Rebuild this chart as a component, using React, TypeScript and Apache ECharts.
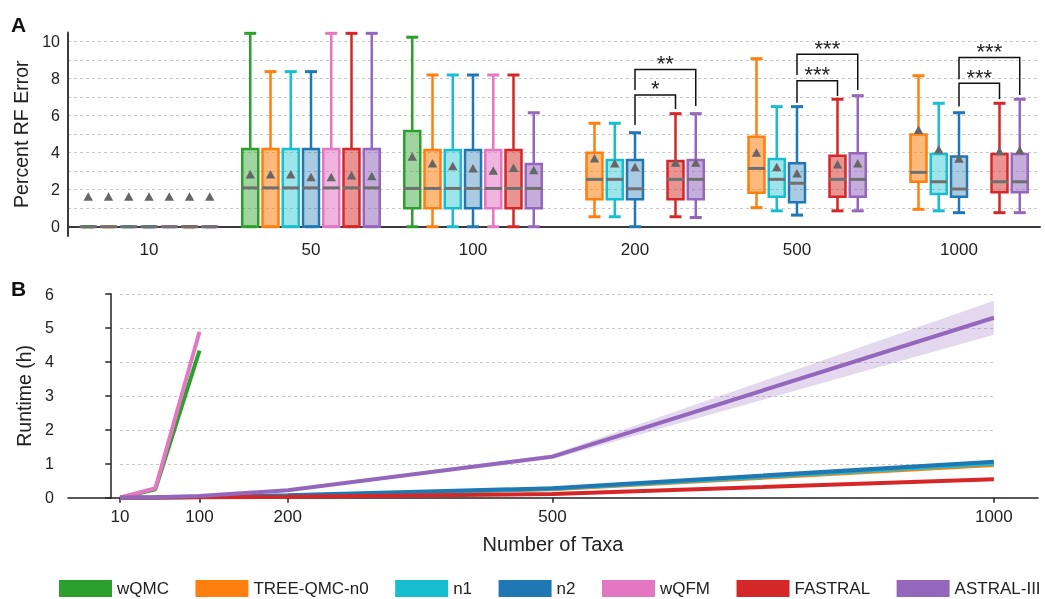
import React, { useEffect, useRef } from "react";
import * as echarts from "echarts";

const FONT = '"Liberation Sans", Arial, Helvetica, sans-serif';

const METHODS = ["wQMC", "TREE-QMC-n0", "n1", "n2", "wQFM", "FASTRAL", "ASTRAL-III"];
const COLORS = ["#2ca02c", "#ff7f0e", "#17becf", "#1f77b4", "#e377c2", "#d62728", "#9467bd"];
const FILLS = ["rgba(44,160,44,0.45)", "rgba(255,127,14,0.55)", "rgba(23,190,207,0.42)", "rgba(31,119,180,0.38)", "rgba(227,119,194,0.55)", "rgba(214,39,40,0.5)", "rgba(148,103,189,0.55)"];

// Panel A: percent RF error, per taxa group: [min, q1, median, q3, max, mean]
const GROUPS = ["10", "50", "100", "200", "500", "1000"];
const WQMC_BOX = [[0, 0, 0, 0, 0, 1.6], [0, 0, 2.1, 4.2, 10.45, 2.8], [0, 1.0, 2.07, 5.17, 10.24, 3.75], null, null, null];
const N0_BOX = [[0, 0, 0, 0, 0, 1.6], [0, 0, 2.1, 4.2, 8.38, 2.8], [0, 1.0, 2.07, 4.15, 8.2, 3.39], [0.54, 1.48, 2.56, 4.0, 5.59, 3.66], [1.03, 1.84, 3.15, 4.86, 9.08, 3.97], [0.94, 2.43, 2.94, 4.99, 8.16, 5.2]];
const N1_BOX = [[0, 0, 0, 0, 0, 1.6], [0, 0, 2.1, 4.2, 8.38, 2.8], [0, 1.0, 2.07, 4.15, 8.2, 3.24], [0.54, 1.48, 2.56, 3.6, 5.59, 3.39], [0.86, 1.62, 2.56, 3.66, 6.49, 3.19], [0.86, 1.77, 2.43, 3.93, 6.67, 4.15]];
const N2_BOX = [[0, 0, 0, 0, 0, 1.6], [0, 0, 2.1, 4.2, 8.38, 2.65], [0, 1.0, 2.07, 4.15, 8.2, 3.12], [0, 1.48, 2.05, 3.6, 5.08, 3.19], [0.63, 1.32, 2.35, 3.43, 6.49, 2.85], [0.76, 1.62, 2.04, 3.79, 6.16, 3.64]];
const WQFM_BOX = [[0, 0, 0, 0, 0, 1.6], [0, 0, 2.1, 4.2, 10.45, 2.65], [0, 1.0, 2.07, 4.15, 8.2, 3.0], null, null, null];
const FASTRAL_BOX = [[0, 0, 0, 0, 0, 1.6], [0, 0, 2.1, 4.2, 10.45, 2.74], [0, 1.0, 2.07, 4.15, 8.2, 3.15], [0.54, 1.48, 2.56, 3.55, 6.11, 3.43], [0.86, 1.62, 2.56, 3.84, 6.89, 3.34], [0.76, 1.86, 2.43, 3.93, 6.67, 4.05]];
const ASTRAL_BOX = [[0, 0, 0, 0, 0, 1.6], [0, 0, 2.1, 4.2, 10.45, 2.7], [0, 1.0, 2.07, 3.39, 6.16, 3.03], [0.5, 1.48, 2.56, 3.6, 6.11, 3.43], [0.86, 1.62, 2.56, 3.97, 7.08, 3.39], [0.76, 1.86, 2.43, 3.93, 6.89, 4.1]];
const BOXES = [WQMC_BOX, N0_BOX, N1_BOX, N2_BOX, WQFM_BOX, FASTRAL_BOX, ASTRAL_BOX];

// Significance brackets (panel A)
const SIG_GROUP = [3, 3, 4, 4, 5, 5];
const SIG_FROM = [3, 3, 3, 3, 3, 3];
const SIG_TO = [5, 6, 5, 6, 5, 6];
const SIG_BAR = [7.12, 8.5, 7.89, 9.32, 7.75, 9.14];
const SIG_LEFT = [5.5, 7.39, 6.7, 8.2, 6.49, 7.97];
const SIG_RIGHT = [6.36, 6.52, 7.06, 7.39, 6.89, 7.12];
const SIG_LABEL = ["*", "**", "***", "***", "***", "***"];

// Panel B: runtime (h)
const TAXA = [10, 50, 100, 200, 500, 1000];
const TAXA_TICKS = [10, 100, 200, 500, 1000];
const WQMC_RT = [0, 0.25, 4.33];
const N0_RT = [0, 0.005, 0.02, 0.05, 0.25, 0.96];
const N1_RT = [0, 0.005, 0.02, 0.06, 0.26, 1.01];
const N2_RT = [0, 0.005, 0.02, 0.07, 0.28, 1.06];
const WQFM_RT = [0, 0.28, 4.89];
const FASTRAL_RT = [0, 0.002, 0.01, 0.03, 0.11, 0.54];
const ASTRAL_RT = [0, 0.01, 0.05, 0.22, 1.21, 5.3];
const ASTRAL_LO = [0, 0.008, 0.04, 0.19, 1.14, 4.8];
const ASTRAL_HI = [0, 0.015, 0.06, 0.25, 1.28, 5.8];
const RUNTIMES = [WQMC_RT, N0_RT, N1_RT, N2_RT, WQFM_RT, FASTRAL_RT, ASTRAL_RT];

function boxRenderer(mi: number) {
  return (params: any, api: any) => {
    const g = api.value(0);
    const band = api.coord([1, 0])[0] - api.coord([0, 0])[0];
    const cx = api.coord([g, 0])[0] + ((mi - 3) * band) / 8;
    const y = (d: number) => api.coord([g, api.value(d)])[1];
    const yMin = y(1), yQ1 = y(2), yMed = y(3), yQ3 = y(4), yMax = y(5), yMean = y(6);
    const c = COLORS[mi];
    return {
      type: "group",
      children: [
        { type: "line", shape: { x1: cx, y1: yQ3, x2: cx, y2: yMax }, style: { stroke: c, lineWidth: 2.5 } },
        { type: "line", shape: { x1: cx, y1: yQ1, x2: cx, y2: yMin }, style: { stroke: c, lineWidth: 2.5 } },
        { type: "line", shape: { x1: cx - 6, y1: yMax, x2: cx + 6, y2: yMax }, style: { stroke: c, lineWidth: 3 } },
        { type: "line", shape: { x1: cx - 6, y1: yMin, x2: cx + 6, y2: yMin }, style: { stroke: c, lineWidth: 3 } },
        { type: "rect", shape: { x: cx - 8, y: yQ3, width: 16, height: yQ1 - yQ3 }, style: { fill: FILLS[mi], stroke: c, lineWidth: 2.5 } },
        { type: "line", shape: { x1: cx - 8.5, y1: yMed, x2: cx + 8.5, y2: yMed }, style: { stroke: "#707070", lineWidth: 3 } },
        { type: "polygon", shape: { points: [[cx, yMean - 5], [cx - 4.7, yMean + 3.5], [cx + 4.7, yMean + 3.5]] }, style: { fill: "#666666" } },
      ],
    };
  };
}

function sigRenderer(params: any, api: any) {
  const g = api.value(0);
  const band = api.coord([1, 0])[0] - api.coord([0, 0])[0];
  const base = api.coord([g, 0])[0];
  const xl = base + ((api.value(1) - 3) * band) / 8;
  const xr = base + ((api.value(2) - 3) * band) / 8;
  const yb = api.coord([g, api.value(3)])[1];
  const yl = api.coord([g, api.value(4)])[1];
  const yr = api.coord([g, api.value(5)])[1];
  return {
    type: "group",
    children: [
      { type: "polyline", shape: { points: [[xl, yl], [xl, yb], [xr, yb], [xr, yr]] }, style: { stroke: "#111", lineWidth: 1.5, fill: null } },
      { type: "text", x: (xl + xr) / 2, y: yb - 6, style: { text: SIG_LABEL[params.dataIndex], fontSize: 22, fill: "#222", align: "center", verticalAlign: "middle", fontFamily: FONT } },
    ],
  };
}

function bandRenderer(params: any, api: any) {
  const upper = TAXA.map((x, i) => api.coord([x, ASTRAL_HI[i]]));
  const lower = TAXA.map((x, i) => api.coord([x, ASTRAL_LO[i]])).reverse();
  return {
    type: "polygon",
    shape: { points: [...upper, ...lower] },
    style: { fill: "rgba(148,103,189,0.26)", stroke: null },
  };
}

export default function App() {
  const ref = useRef<HTMLDivElement>(null);
  useEffect(() => {
    if (!ref.current) return;
    const chart = echarts.init(ref.current, null, { renderer: "svg" });
    const axisColA = "#3a3a3a";
    const axisColB = "#222";
    const gridLine = { color: "#c8c8c8", type: [3, 3] as any, width: 1 };

    const boxSeries = METHODS.map((name, mi) => {
      const rows: any[] = [];
      BOXES[mi].forEach((b, g) => {
        if (b) rows.push([g, ...b]);
      });
      return {
        type: "custom",
        name,
        xAxisIndex: 0,
        yAxisIndex: 0,
        itemStyle: { color: COLORS[mi] },
        encode: { x: 0, y: [1, 2, 3, 4, 5, 6] },
        clip: false,
        renderItem: boxRenderer(mi),
        data: rows,
        z: 3,
      };
    });

    const sigSeries = {
      type: "custom",
      name: "sig",
      xAxisIndex: 0,
      yAxisIndex: 0,
      encode: { x: 0, y: [3, 4, 5] },
      clip: false,
      renderItem: sigRenderer,
      data: SIG_GROUP.map((g, i) => [g, SIG_FROM[i], SIG_TO[i], SIG_BAR[i], SIG_LEFT[i], SIG_RIGHT[i]]),
      z: 4,
    };

    const lineSeries = METHODS.map((name, mi) => ({
      type: "line",
      name,
      xAxisIndex: 1,
      yAxisIndex: 1,
      showSymbol: false,
      symbol: "none",
      lineStyle: { width: 4, color: COLORS[mi] },
      itemStyle: { color: COLORS[mi] },
      data: RUNTIMES[mi].map((v, i) => [TAXA[i], v]),
      z: 3 + mi,
    }));

    const bandSeries = {
      type: "custom",
      name: "astral-band",
      xAxisIndex: 1,
      yAxisIndex: 1,
      renderItem: bandRenderer,
      data: [[TAXA[0], ASTRAL_LO[0]]],
      clip: false,
      silent: true,
      z: 2,
    };

    chart.setOption({
      animation: false,
      textStyle: { fontFamily: FONT },
      grid: [
        { left: 68, top: 32.4, width: 972, height: 203.6, outerBoundsMode: "none" },
        { left: 68, top: 294, width: 970, height: 203.7, outerBoundsMode: "none" },
        { left: 120, top: 294, width: 874, height: 203.7, outerBoundsMode: "none" },
      ],
      xAxis: [
        {
          gridIndex: 0,
          type: "category",
          data: GROUPS,
          axisTick: { show: false },
          axisLine: { lineStyle: { color: axisColA, width: 2 } },
          axisLabel: { fontSize: 17, color: "#222", margin: 5, fontFamily: FONT },
          splitLine: { show: false },
        },
        {
          gridIndex: 1,
          type: "value",
          min: -49,
          max: 1050,
          splitLine: { show: false },
          axisLine: { onZero: false, lineStyle: { color: axisColB, width: 1.5 } },
          axisTick: { show: true, customValues: TAXA_TICKS, length: 5, lineStyle: { color: axisColB, width: 1.5 } },
          axisLabel: { customValues: TAXA_TICKS, formatter: (v: number) => String(v), fontSize: 17, color: "#222", margin: 10, fontFamily: FONT },
          name: "Number of Taxa",
          nameLocation: "middle",
          nameGap: 36,
          nameTextStyle: { fontSize: 20, color: "#222", fontFamily: FONT },
        },
        {
          gridIndex: 2,
          type: "value",
          min: 10,
          max: 1000,
          axisLine: { show: false },
          axisTick: { show: false },
          axisLabel: { show: false },
          splitLine: { show: false },
        },
      ],
      yAxis: [
        {
          gridIndex: 0,
          type: "value",
          min: -0.5,
          max: 10.5,
          splitNumber: 11,
          minInterval: 1,
          maxInterval: 1,
          axisLine: { show: true, lineStyle: { color: axisColA, width: 2 } },
          axisTick: { show: false },
          axisLabel: {
            formatter: (v: number) => (v >= 0 && Math.abs(v % 2) < 1e-9 ? String(v) : ""),
            fontSize: 16,
            color: "#222",
            margin: 8,
            fontFamily: FONT,
          },
          splitLine: { show: true, showMinLine: false, showMaxLine: false, lineStyle: gridLine },
          name: "Percent RF Error",
          nameLocation: "middle",
          nameGap: 34,
          nameTextStyle: { fontSize: 19.5, color: "#222", fontFamily: FONT },
        },
        {
          gridIndex: 1,
          type: "value",
          min: 0,
          max: 6,
          interval: 1,
          axisLine: { show: true, lineStyle: { color: axisColB, width: 1.5 } },
          axisTick: { show: true, length: 6, lineStyle: { color: axisColB, width: 1.5 } },
          axisLabel: { fontSize: 16, color: "#222", margin: 14, fontFamily: FONT },
          splitLine: { show: false },
          name: "Runtime (h)",
          nameLocation: "middle",
          nameGap: 33,
          nameTextStyle: { fontSize: 19.5, color: "#222", fontFamily: FONT },
        },
        {
          gridIndex: 2,
          type: "value",
          min: 0,
          max: 6,
          interval: 1,
          axisLine: { show: false },
          axisTick: { show: false },
          axisLabel: { show: false },
          splitLine: { show: true, showMinLine: false, lineStyle: gridLine },
        },
      ],
      legend: {
        left: 59,
        top: 580,
        padding: 0,
        width: 990,
        itemWidth: 53,
        itemHeight: 17,
        itemGap: 26.5,
        icon: "rect",
        selectedMode: false,
        textStyle: { fontSize: 17, color: "#222", fontFamily: FONT },
        data: METHODS.map((n, i) => ({ name: n, itemStyle: { color: COLORS[i] } })),
      },
      graphic: [
        { type: "text", left: 11, top: 14, style: { text: "A", fontSize: 21, fontWeight: "bold", fill: "#111", fontFamily: FONT } },
        { type: "text", left: 11, top: 278, style: { text: "B", fontSize: 21, fontWeight: "bold", fill: "#111", fontFamily: FONT } },
      ],
      series: [...boxSeries, sigSeries, bandSeries, ...lineSeries],
    });
    return () => chart.dispose();
  }, []);
  return <div ref={ref} style={{ position: "fixed", left: 0, top: 0, width: 1045, height: 599 }} />;
}
